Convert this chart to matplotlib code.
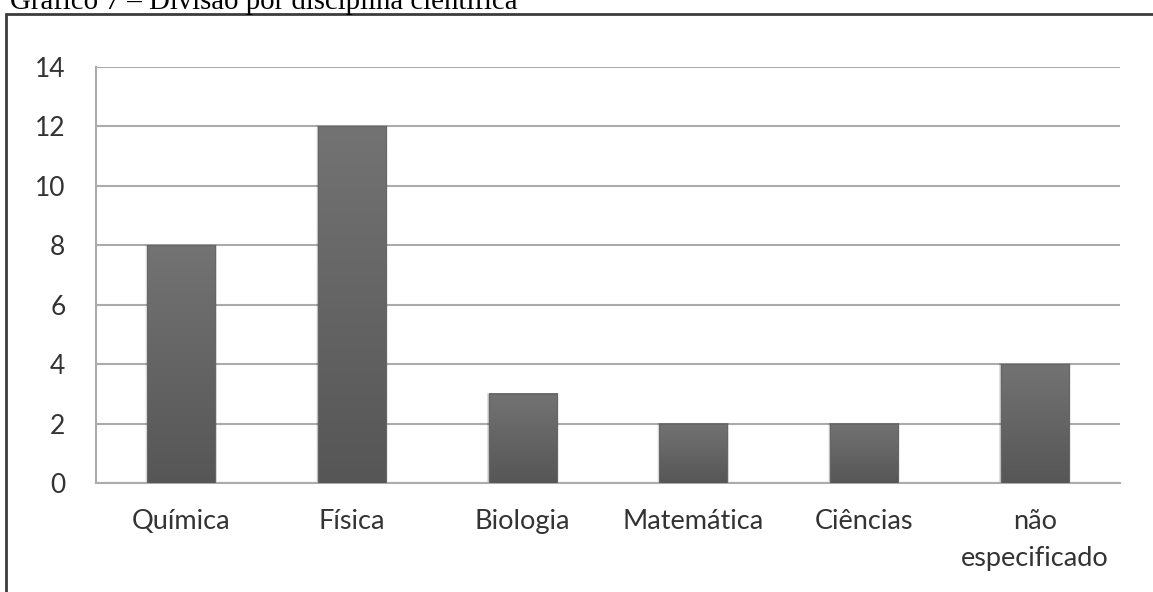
import numpy as np
import matplotlib.pyplot as plt
from matplotlib.colors import LinearSegmentedColormap
from matplotlib.patches import Rectangle

# Divisão por disciplina científica
disciplinas = ['Química', 'Física', 'Biologia', 'Matemática', 'Ciências',
               'não\nespecificado']
quantidades = [8, 12, 3, 2, 2, 4]
marcas_y = [0, 2, 4, 6, 8, 10, 12, 14]

cinza_grade = '#ababab'
cor_texto = '#333333'
degrade = LinearSegmentedColormap.from_list('barra', ['#565656', '#737373'])


def main():
	fig = plt.figure(figsize=(11.53, 5.92), dpi=100)
	fig.patch.set_facecolor('white')

	# titulo cortado no topo e moldura do grafico
	fig.text(10 / 1153, 1 - 9 / 592, 'Gráfico 7 – Divisão por disciplina científica',
	         family='Liberation Serif', size=20.8, color='black', ha='left', va='baseline')
	fig.add_artist(Rectangle((5.5 / 1153, -0.1), 1.2, 1 - 13.5 / 592 + 0.1,
	                         transform=fig.transFigure, fill=False,
	                         edgecolor='#3c3c3c', linewidth=2))

	ax = fig.add_axes([96 / 1153, 1 - 483 / 592, 1024 / 1153, 416 / 592])
	n = len(disciplinas)
	xs = np.arange(n)
	larg = 0.4

	ax.set_xlim(-0.5, n - 0.5)
	ax.set_ylim(0, 14)
	ax.set_yticks(marcas_y)
	ax.set_xticks(xs)
	ax.set_xticklabels(disciplinas, family='Lato', size=19.5, color=cor_texto, linespacing=1.6)
	ax.set_yticklabels([str(v) for v in marcas_y], family='Lato', size=19, color=cor_texto)
	ax.tick_params(axis='both', length=0)
	ax.tick_params(axis='x', pad=19)
	ax.tick_params(axis='y', pad=22)

	for lado in ['top', 'right']:
		ax.spines[lado].set_visible(False)
	for lado in ['left', 'bottom']:
		ax.spines[lado].set_color(cinza_grade)
		ax.spines[lado].set_linewidth(1.5)
	ax.yaxis.grid(True, color=cinza_grade, linewidth=1.5)
	ax.set_axisbelow(True)

	grad = np.linspace(0, 1, 256).reshape(-1, 1)
	for x, v in zip(xs, quantidades):
		# sombra suave em volta da barra
		for k, a in [(0.03, 0.05), (0.02, 0.08), (0.01, 0.12)]:
			ax.add_patch(Rectangle((x - larg / 2 - k / 3, 0), larg + 2 * k / 3, v + k * 1.2,
			                       facecolor='#000000', alpha=a, edgecolor='none', zorder=2))
		ax.imshow(grad, cmap=degrade, origin='lower', aspect='auto',
		          extent=(x - larg / 2, x + larg / 2, 0, v), zorder=3)
		ax.add_patch(Rectangle((x - larg / 2, 0), larg, v, fill=False,
		                       edgecolor='#666666', linewidth=0.8, zorder=4))

	ax.set_xlim(-0.5, n - 0.5)
	ax.set_ylim(0, 14)
	fig.savefig('out.png', dpi=100)


if __name__ == '__main__':
	main()
